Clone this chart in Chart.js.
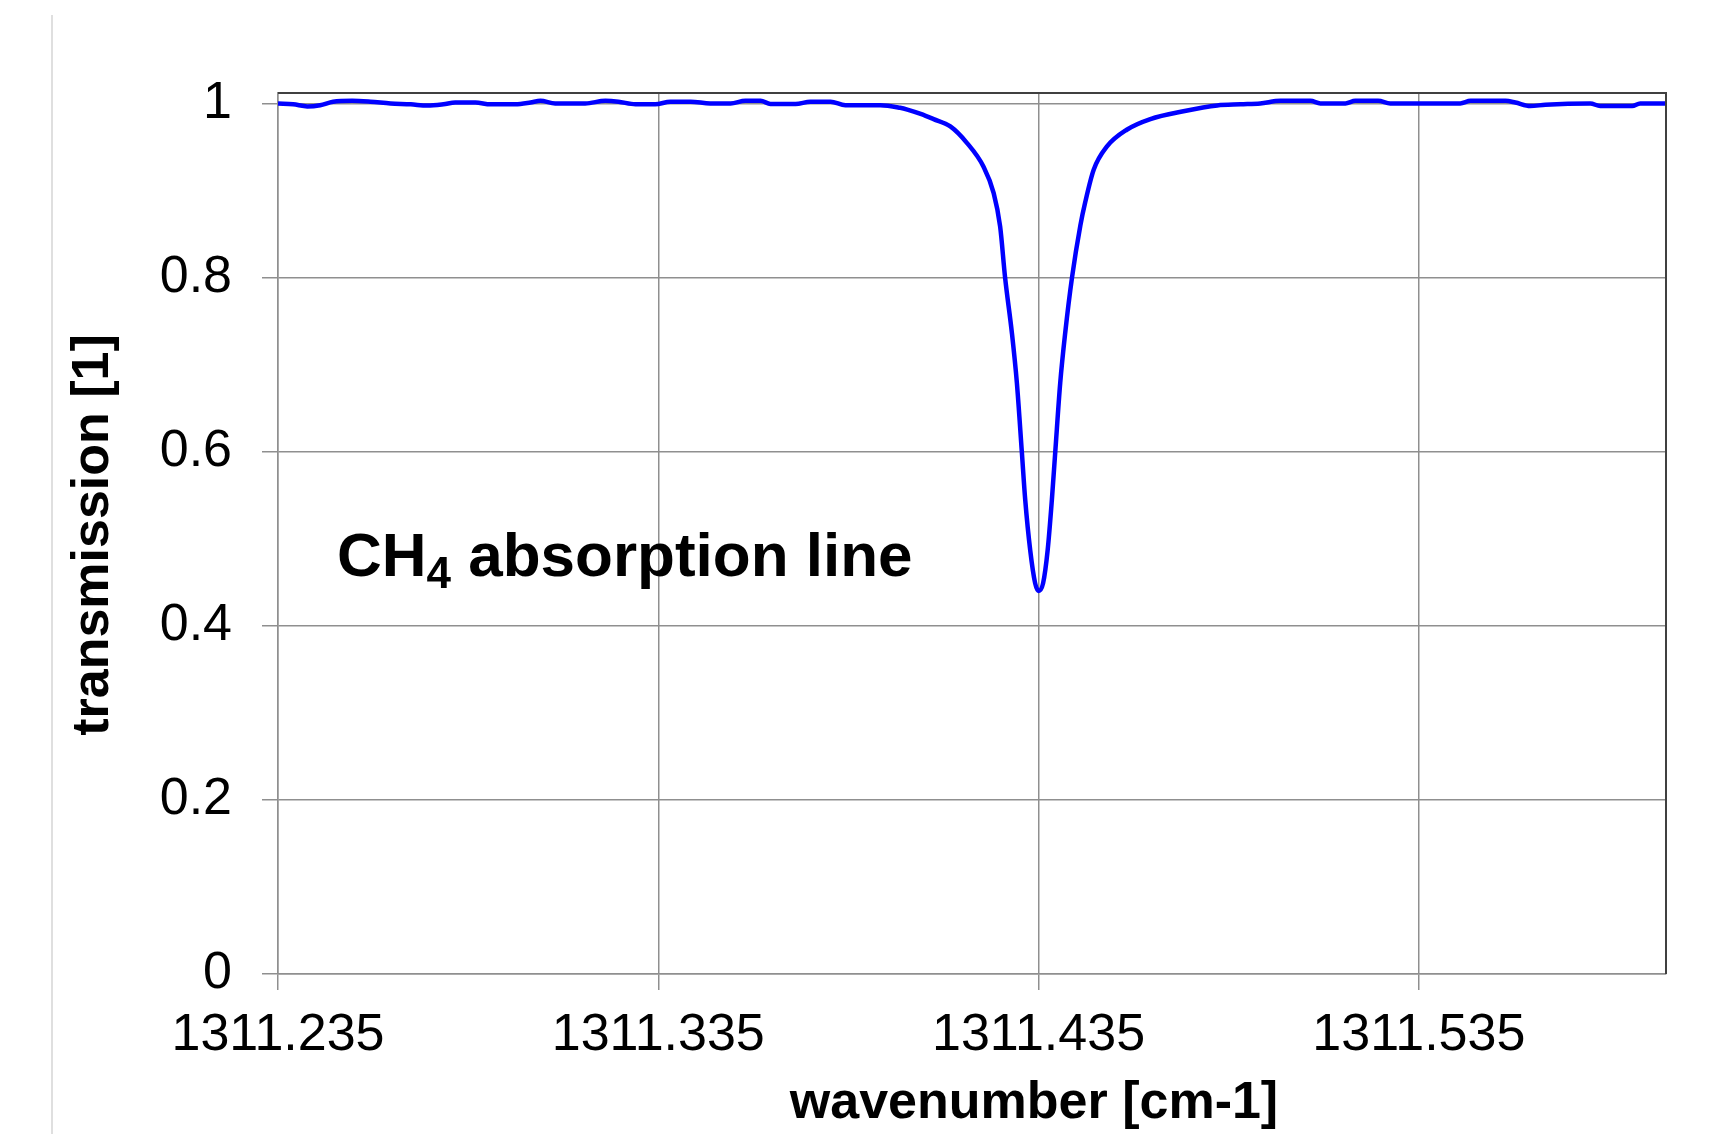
<!DOCTYPE html>
<html>
<head>
<meta charset="utf-8">
<script src="https://cdn.jsdelivr.net/npm/chart.js@4.4.1/dist/chart.umd.min.js"></script>
<style>
  html, body { margin: 0; padding: 0; background: #fff; }
  canvas { display: block; }
</style>
</head>
<body>
<canvas id="ChartContainer" width="1718" height="1134"></canvas>
<script>
// wavenumber [cm-1] of each sample
var wavenumbers = [
  1311.2350, 1311.2390, 1311.2427, 1311.2461, 1311.2495, 1311.2545, 1311.2593, 1311.2646,
  1311.2699, 1311.2743, 1311.2785, 1311.2816, 1311.2869, 1311.2909, 1311.2974, 1311.3014,
  1311.3040, 1311.3079, 1311.3158, 1311.3211, 1311.3245, 1311.3290, 1311.3342, 1311.3382,
  1311.3435, 1311.3487, 1311.3540, 1311.3579, 1311.3619, 1311.3645, 1311.3711, 1311.3750,
  1311.3803, 1311.3842, 1311.3934, 1311.3986, 1311.4005, 1311.4040, 1311.4074, 1311.4118,
  1311.4162, 1311.4205, 1311.4232, 1311.4249, 1311.4262, 1311.4280, 1311.4293, 1311.4306,
  1311.4315, 1311.4328, 1311.4341, 1311.4350, 1311.4362, 1311.4374, 1311.4385, 1311.4394,
  1311.4407, 1311.4420, 1311.4438, 1311.4460, 1311.4473, 1311.4495, 1311.4530, 1311.4582,
  1311.4644, 1311.4731, 1311.4820, 1311.4881, 1311.4933, 1311.4986, 1311.5065, 1311.5091,
  1311.5157, 1311.5183, 1311.5243, 1311.5275, 1311.5354, 1311.5459, 1311.5486, 1311.5578,
  1311.5604, 1311.5643, 1311.5683, 1311.5801, 1311.5827, 1311.5911, 1311.5932, 1311.6000
];
// transmission [1]
var transmission = [
  1.000, 0.999, 0.9966, 0.998, 1.002, 1.003, 1.002, 1.000,
  0.999, 0.9975, 0.999, 1.001, 1.001, 0.999, 0.999, 1.001,
  1.003, 1.000, 1.000, 1.003, 1.002, 0.999, 0.999, 1.002,
  1.002, 1.000, 1.000, 1.003, 1.003, 0.9995, 0.9993, 1.002,
  1.002, 0.998, 0.998, 0.995, 0.993, 0.988, 0.982, 0.9736,
  0.9545, 0.9276, 0.897, 0.8586, 0.80, 0.736, 0.679, 0.60,
  0.5445, 0.487, 0.449, 0.440, 0.449, 0.487, 0.5445, 0.60,
  0.679, 0.736, 0.80, 0.860, 0.887, 0.9238, 0.9506, 0.9698,
  0.982, 0.991, 0.9977, 0.999, 1.000, 1.003, 1.003, 1.000,
  1.000, 1.003, 1.003, 1.000, 1.000, 1.000, 1.003, 1.003,
  1.001, 0.997, 0.9985, 1.000, 0.997, 0.997, 1.000, 1.000
];
var xTicks = [1311.235, 1311.335, 1311.435, 1311.535];
var yTicks = [0, 0.2, 0.4, 0.6, 0.8, 1];

var FONT = '"Liberation Sans", Arial, sans-serif';

var points = [];
for (var i = 0; i < wavenumbers.length; i++) {
  points.push({ x: wavenumbers[i], y: transmission[i] });
}

// frame, page line and the free texts
var extras = {
  id: 'extras',
  beforeDraw: function (chart) {
    var ctx = chart.ctx;
    ctx.save();
    ctx.strokeStyle = '#d4d4d4';
    ctx.lineWidth = 1.5;
    ctx.beginPath();
    ctx.moveTo(52, 15);
    ctx.lineTo(52, 1134);
    ctx.stroke();
    ctx.restore();
  },
  afterDraw: function (chart) {
    var ctx = chart.ctx;
    var a = chart.chartArea;
    ctx.save();
    ctx.strokeStyle = '#404040';
    ctx.lineWidth = 2;
    ctx.beginPath();
    ctx.moveTo(a.left, a.top);
    ctx.lineTo(a.right, a.top);
    ctx.lineTo(a.right, a.bottom);
    ctx.stroke();

    ctx.fillStyle = '#000';
    ctx.textBaseline = 'alphabetic';

    // x title
    ctx.font = 'bold 52px ' + FONT;
    ctx.textAlign = 'center';
    ctx.fillText('wavenumber [cm-1]', 1034, 1118);

    // y title
    ctx.save();
    ctx.translate(94, 535);
    ctx.rotate(-Math.PI / 2);
    ctx.textBaseline = 'middle';
    ctx.fillText('transmission [1]', 0, 0);
    ctx.restore();

    // annotation
    ctx.textAlign = 'left';
    var x0 = 337;
    ctx.font = 'bold 62px ' + FONT;
    ctx.fillText('CH', x0, 576);
    x0 += ctx.measureText('CH').width;
    ctx.font = 'bold 44px ' + FONT;
    ctx.fillText('4', x0, 588);
    x0 += ctx.measureText('4').width;
    ctx.font = 'bold 62px ' + FONT;
    ctx.fillText(' absorption line', x0, 576);
    ctx.restore();
  }
};

new Chart(document.getElementById('ChartContainer').getContext('2d'), {
  type: 'line',
  data: {
    datasets: [{
      label: 'transmission',
      data: points,
      borderColor: '#0000ff',
      borderWidth: 4.5,
      pointRadius: 0,
      fill: false,
      cubicInterpolationMode: 'monotone'
    }]
  },
  options: {
    responsive: false,
    animation: false,
    devicePixelRatio: 1,
    layout: { padding: { left: 0, right: 52, top: 93, bottom: 0 } },
    plugins: {
      legend: { display: false },
      tooltip: { enabled: false }
    },
    scales: {
      x: {
        type: 'linear',
        min: 1311.235,
        max: 1311.600,
        afterBuildTicks: function (scale) {
          scale.ticks = xTicks.map(function (v) { return { value: v }; });
        },
        afterFit: function (scale) { scale.height = 160; },
        grid: { color: '#8f8f8f', lineWidth: 1.5, tickLength: 16, tickColor: '#8f8f8f' },
        border: { color: '#8f8f8f', width: 1.5 },
        ticks: {
          color: '#000',
          font: { family: FONT, size: 52 },
          padding: 14,
          maxRotation: 0,
          autoSkip: false,
          callback: function (v) { return Number(v).toFixed(3); }
        }
      },
      y: {
        min: 0,
        max: 1.012,
        afterBuildTicks: function (scale) {
          scale.ticks = yTicks.map(function (v) { return { value: v }; });
        },
        afterFit: function (scale) { scale.width = 278; },
        grid: { color: '#8f8f8f', lineWidth: 1.5, tickLength: 16, tickColor: '#8f8f8f' },
        border: { color: '#8f8f8f', width: 1.5 },
        ticks: {
          color: '#000',
          font: { family: FONT, size: 52 },
          padding: 30,
          callback: function (v) { return String(v); }
        }
      }
    }
  },
  plugins: [extras]
});
</script>
</body>
</html>
